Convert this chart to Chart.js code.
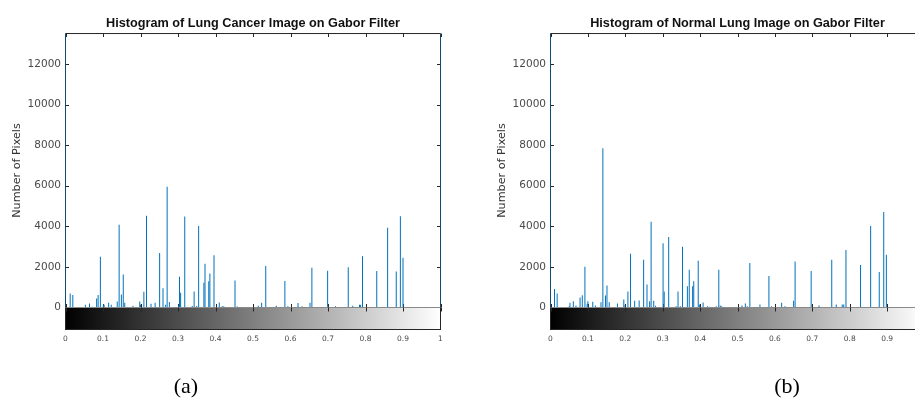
<!DOCTYPE html>
<html><head><meta charset="utf-8">
<script src="https://cdn.jsdelivr.net/npm/chart.js@4.4.0/dist/chart.umd.min.js"></script>
<style>
html,body{margin:0;padding:0;background:#fff;overflow:hidden;width:915px;height:399px;}
#wrap{position:relative;width:915px;height:399px;overflow:hidden;background:#fff;}
#c1{position:absolute;left:0;top:0;}
#c2{position:absolute;left:455px;top:0;}
.cap{position:absolute;top:373px;font-family:"Liberation Serif","Times New Roman",serif;font-size:22px;color:#000;width:60px;text-align:center;line-height:26px;}
</style></head><body>
<div id="wrap">
<canvas id="c1" width="455" height="399"></canvas>
<canvas id="c2" width="480" height="399"></canvas>
<div class="cap" style="left:156px">(a)</div>
<div class="cap" style="left:757px">(b)</div>
</div>
<script>
// ---- data ----
const titles = ["Histogram of Lung Cancer Image on Gabor Filter", "Histogram of Normal Lung Image on Gabor Filter"];
const yAxisTitle = "Number of Pixels";
const xTicks = [0, 0.1, 0.2, 0.3, 0.4, 0.5, 0.6, 0.7, 0.8, 0.9, 1];
const yTicks = [0, 2000, 4000, 6000, 8000, 10000, 12000];

const cancerIntensity = [0, 0.0125, 0.0195, 0.053, 0.064, 0.071, 0.083, 0.087, 0.093, 0.101, 0.103, 0.115, 0.122, 0.138, 0.143, 0.149, 0.154, 0.158, 0.180, 0.198, 0.200, 0.209, 0.216, 0.228, 0.239, 0.251, 0.260, 0.267, 0.271, 0.277, 0.302, 0.304, 0.307, 0.318, 0.338, 0.343, 0.350, 0.355, 0.369, 0.372, 0.382, 0.385, 0.396, 0.410, 0.418, 0.422, 0.452, 0.458, 0.514, 0.523, 0.534, 0.562, 0.585, 0.593, 0.620, 0.631, 0.652, 0.657, 0.699, 0.720, 0.754, 0.766, 0.784, 0.787, 0.792, 0.830, 0.859, 0.882, 0.893, 0.900, 1];
const cancerCount = [13500, 690, 620, 130, 200, 40, 440, 610, 2500, 150, 130, 240, 130, 290, 4080, 640, 1620, 230, 90, 300, 140, 780, 4520, 180, 230, 2690, 950, 130, 5950, 270, 120, 1520, 730, 4480, 80, 785, 70, 4020, 1220, 2150, 1290, 1680, 2580, 250, 60, 60, 1330, 50, 90, 230, 2050, 90, 1300, 60, 220, 60, 230, 1960, 1810, 60, 1980, 90, 140, 140, 2530, 1800, 3930, 1770, 4500, 2450, 13500];

const normalIntensity = [0, 0.0107, 0.0178, 0.050, 0.052, 0.061, 0.068, 0.079, 0.085, 0.092, 0.098, 0.100, 0.113, 0.120, 0.135, 0.140, 0.147, 0.151, 0.157, 0.179, 0.196, 0.199, 0.207, 0.214, 0.225, 0.237, 0.249, 0.258, 0.265, 0.269, 0.276, 0.281, 0.301, 0.304, 0.316, 0.336, 0.341, 0.347, 0.353, 0.366, 0.371, 0.380, 0.383, 0.395, 0.398, 0.408, 0.420, 0.443, 0.450, 0.454, 0.458, 0.512, 0.521, 0.526, 0.533, 0.560, 0.584, 0.591, 0.618, 0.627, 0.650, 0.654, 0.697, 0.718, 0.752, 0.764, 0.780, 0.784, 0.790, 0.829, 0.856, 0.879, 0.891, 0.898, 1];
const normalCount = [13500, 915, 690, 65, 230, 310, 100, 490, 605, 2010, 180, 310, 280, 100, 260, 7850, 590, 1080, 260, 200, 390, 100, 785, 2650, 330, 340, 2350, 1130, 310, 4230, 330, 90, 3170, 785, 3470, 60, 785, 60, 2990, 1050, 1860, 1050, 1290, 2300, 150, 245, 60, 60, 1860, 100, 60, 100, 200, 60, 2190, 150, 1550, 60, 230, 60, 330, 2270, 1800, 100, 2350, 150, 150, 150, 2830, 2090, 4020, 1750, 4710, 2600, 13500];

// ---- rendering ----
const AXIS = '#262626';
const matlabAxes = {
  id: 'matlabAxes',
  beforeDatasetsDraw(chart) {
    const {ctx, chartArea: a, scales: {x, y}} = chart;
    ctx.save();
    ctx.strokeStyle = AXIS;
    ctx.lineWidth = 1;
    ctx.beginPath();
    ctx.moveTo(a.left, a.bottom); ctx.lineTo(a.left, a.top); ctx.lineTo(a.right, a.top); ctx.lineTo(a.right, a.bottom);
    ctx.stroke();
    ctx.beginPath();
    x.ticks.forEach(t => {
      const px = Math.round(x.getPixelForValue(t.value)) + 0.5;
      ctx.moveTo(px, a.top); ctx.lineTo(px, a.top + 3.5);
      ctx.moveTo(px, a.bottom); ctx.lineTo(px, a.bottom - 3.5);
    });
    y.ticks.forEach(t => {
      const py = Math.round(y.getPixelForValue(t.value)) + 0.5;
      ctx.moveTo(a.left, py); ctx.lineTo(a.left + 3.5, py);
      ctx.moveTo(a.right, py); ctx.lineTo(a.right - 3.5, py);
    });
    ctx.stroke();
    ctx.restore();
  },
  afterDraw(chart) {
    const {ctx, chartArea: a, scales: {x}} = chart;
    const top = a.bottom, h = 22, w = a.right - a.left;
    ctx.save();
    const g = ctx.createLinearGradient(x.getPixelForValue(0), 0, x.getPixelForValue(1), 0);
    g.addColorStop(0, '#000000');
    g.addColorStop(1, '#ffffff');
    ctx.fillStyle = g;
    ctx.fillRect(a.left, top, w, h);
    ctx.strokeStyle = AXIS;
    ctx.lineWidth = 1;
    ctx.strokeRect(a.left, top, w, h);
    ctx.strokeStyle = '#8a8a8a';
    ctx.beginPath(); ctx.moveTo(a.left, top); ctx.lineTo(a.right, top); ctx.stroke();
    ctx.strokeStyle = AXIS;
    ctx.beginPath();
    x.ticks.forEach(t => {
      const px = Math.round(x.getPixelForValue(t.value)) + 0.5;
      ctx.moveTo(px, top); ctx.lineTo(px, top + 4);
    });
    ctx.stroke();
    ctx.restore();
  }
};

function makeChart(id, title, xs, ys, yAxisW, yTitlePad, padRight) {
  const pts = xs.map((v, i) => ({x: v, y: ys[i]}));
  const ymax = Math.max(...ys);
  return new Chart(document.getElementById(id), {
    type: 'bar',
    data: { datasets: [{
      data: pts,
      backgroundColor: '#0072BD',
      borderWidth: 0,
      barThickness: 1,
      inflateAmount: 0
    }]},
    options: {
      responsive: false,
      animation: false,
      layout: { padding: {left: 0, right: padRight, top: 0, bottom: 0} },
      plugins: {
        legend: {display: false},
        tooltip: {enabled: false},
        title: {
          display: true, text: title, fullSize: false,
          color: '#111', font: {family: 'Liberation Sans, Arial', size: 12.7, weight: 'bold'},
          padding: {top: 15.5, bottom: 2.8}
        }
      },
      scales: {
        x: {
          type: 'linear', min: 0, max: 1, offset: false,
          grid: {display: true, drawOnChartArea: false, drawTicks: true, tickLength: 27, color: 'rgba(0,0,0,0)'},
          border: {display: false},
          afterBuildTicks: s => { s.ticks = xTicks.map(v => ({value: v})); },
          afterFit: s => { s.height = 91.5; },
          ticks: {
            autoSkip: false, maxRotation: 0, padding: 0,
            color: '#4a4a4a', font: {family: 'DejaVu Sans', size: 7.5},
            callback: v => String(v)
          }
        },
        y: {
          min: 0, max: ymax,
          grid: {display: false, drawTicks: false},
          border: {display: false},
          afterBuildTicks: s => { s.ticks = yTicks.map(v => ({value: v})); },
          afterFit: s => { s.width = yAxisW; },
          ticks: {
            padding: 4.5, color: '#4a4a4a', font: {family: 'DejaVu Sans', size: 10.5},
            callback: v => String(v)
          },
          title: {
            display: true, text: yAxisTitle, color: '#333',
            font: {family: 'DejaVu Sans', size: 11.2},
            padding: {top: 10.3, bottom: 0}
          }
        }
      }
    },
    plugins: [matlabAxes]
  });
}

makeChart('c1', titles[0], cancerIntensity, cancerCount, 65.5, 10.7, 14.5);
const c2 = makeChart('c2', titles[1], normalIntensity, normalCount, 95.5, 40.4, 10.5);
c2.options.scales.y.title.padding = {top: 40.0, bottom: 0};
c2.update();
</script>
</body></html>
